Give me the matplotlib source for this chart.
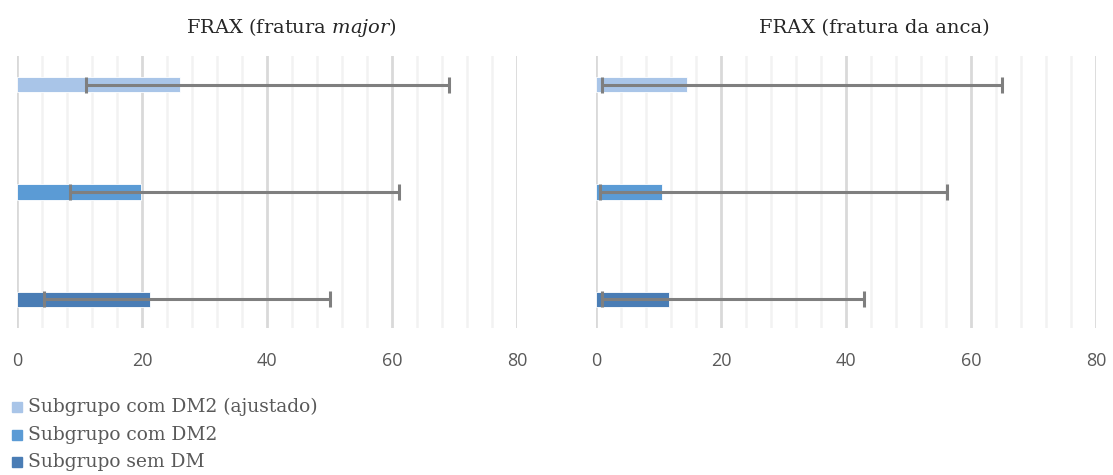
import matplotlib
matplotlib.use("Agg")
import matplotlib.pyplot as plt
from matplotlib.ticker import MultipleLocator
from matplotlib.patches import Rectangle
import numpy as np

plt.rcParams["mathtext.fontset"] = "dejavuserif"

# ---- data ----
series = ["Subgrupo com DM2 (ajustado)", "Subgrupo com DM2", "Subgrupo sem DM"]
colors = ["#A9C5E8", "#5B9BD5", "#4A7DB5"]

major_vals = [26.0, 19.9, 21.3]
major_lo = [11.0, 8.4, 4.3]
major_hi = [69.1, 61.1, 50.0]

hip_vals = [14.5, 10.6, 11.7]
hip_lo = [0.9, 0.7, 0.9]
hip_hi = [65.0, 56.1, 42.9]

ticks = [0, 20, 40, 60, 80]

W, H = 1113, 475
fig = plt.figure(figsize=(W / 100, H / 100), dpi=100)

def ax_rect(x0, x1, ytop, ybot):
    return [x0 / W, 1 - ybot / H, (x1 - x0) / W, (ybot - ytop) / H]

axL = fig.add_axes(ax_rect(17, 517, 56, 328))
axR = fig.add_axes(ax_rect(596, 1096, 56, 328))

ypos = [2, 1, 0]
for ax, vals, lo, hi in [(axL, major_vals, major_lo, major_hi),
                         (axR, hip_vals, hip_lo, hip_hi)]:
    ax.set_xlim(0, 80)
    ax.set_ylim(-0.268, 2.268)
    ax.xaxis.set_major_locator(MultipleLocator(20))
    ax.xaxis.set_minor_locator(MultipleLocator(4))
    ax.grid(True, which="minor", axis="x", color="#F2F2F2", linewidth=1.8, zorder=0)
    ax.grid(True, which="major", axis="x", color="#D9D9D9", linewidth=2.0, zorder=0)
    ax.set_axisbelow(True)
    for s in ax.spines.values():
        s.set_visible(False)
    ax.tick_params(axis="x", which="both", length=0, pad=17,
                   labelsize=13, labelcolor="#595959")
    ax.set_xticks(ticks)
    ax.set_xticklabels([str(t) for t in ticks], family="Open Sans")
    ax.set_yticks([])
    for i in range(3):
        v = vals[i]
        ax.barh(ypos[i], v, height=0.14, color=colors[i],
                edgecolor="#FFFFFF", linewidth=0.6, zorder=2)
        ax.errorbar(v, ypos[i], xerr=[[v - lo[i]], [hi[i] - v]], fmt="none",
                    ecolor="#7F7F7F", elinewidth=2.2, capsize=5.5,
                    capthick=2.2, zorder=3)

# titles
tfs = 14
fig.text(291.5 / W, 1 - 33 / H, "FRAX (fratura $\\mathit{major}$)",
         ha="center", va="baseline", fontsize=tfs,
         family="DejaVu Serif", color="#262626")
fig.text(874 / W, 1 - 33 / H, "FRAX (fratura da anca)",
         ha="center", va="baseline", fontsize=tfs,
         family="DejaVu Serif", color="#262626")

# legend (manual, like Excel layout)
rows_y = [407, 435, 462]
for i in range(3):
    fig.patches.append(Rectangle((12 / W, 1 - (rows_y[i] + 5) / H), 10 / W, 10 / H,
                                 transform=fig.transFigure, color=colors[i]))
    fig.text(28 / W, 1 - rows_y[i] / H, series[i], ha="left", va="center",
             fontsize=13.4, family="DejaVu Serif", color="#595959")

fig.savefig("out.png", dpi=100)
